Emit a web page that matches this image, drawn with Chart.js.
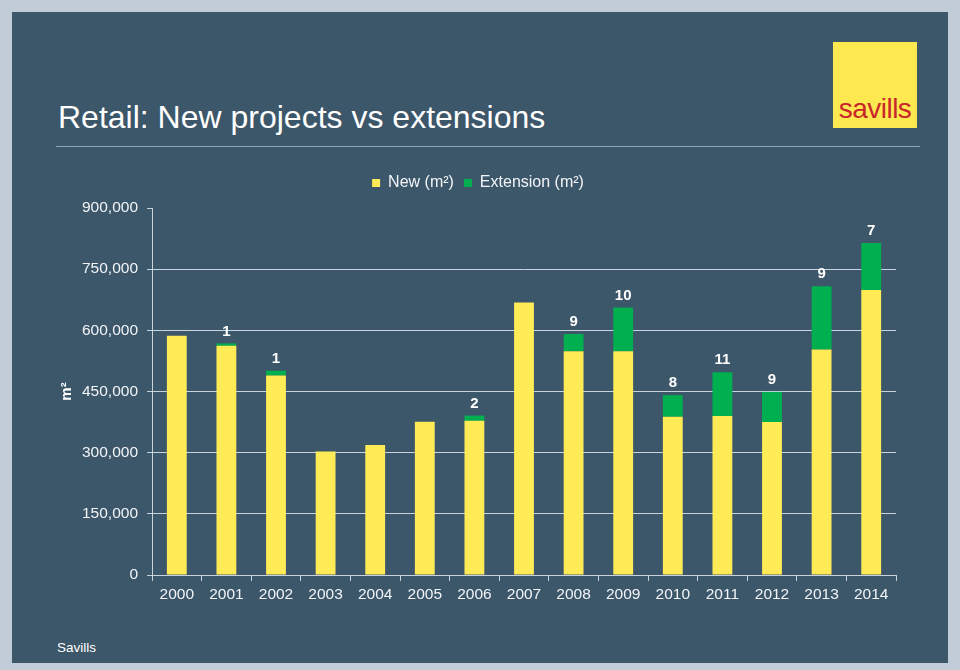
<!DOCTYPE html>
<html>
<head>
<meta charset="utf-8">
<script src="https://cdn.jsdelivr.net/npm/chart.js@4.4.1/dist/chart.umd.min.js"></script>
<style>
  html, body { margin:0; padding:0; }
  body { width:960px; height:670px; background:#c2ccd8; position:relative; overflow:hidden; font-family:"Liberation Sans", Arial, sans-serif; }
  #panel { position:absolute; left:12px; top:12px; width:936px; height:651px; background:#3c566a; }
  #title { position:absolute; left:58px; top:97px; font-size:32px; color:#ffffff; white-space:nowrap; line-height:40px; }
  #rule { position:absolute; left:56px; top:146px; width:864px; height:1px; background:#8ea2b4; }
  #logo { position:absolute; left:833px; top:42px; width:84px; height:86px; background:#fde84f; }
  #logo span { position:absolute; left:0; right:0; bottom:4px; text-align:center; color:#c8262b; font-size:28px; letter-spacing:-0.5px; line-height:30px; }
  #foot { position:absolute; left:57px; top:640px; font-size:13.5px; color:#ffffff; }
  #wrap { position:absolute; left:0; top:0; width:960px; height:670px; }
</style>
</head>
<body>
<div id="panel"></div>
<div id="title">Retail: New projects vs extensions</div>
<div id="rule"></div>
<div id="logo"><span>savills</span></div>
<div id="foot">Savills</div>
<div id="wrap"><canvas id="c" width="960" height="670"></canvas></div>
<script>
const years = ["2000","2001","2002","2003","2004","2005","2006","2007","2008","2009","2010","2011","2012","2013","2014"];
const newArea = [587000, 562000, 489000, 303000, 319000, 376000, 378000, 668000, 549000, 549000, 388000, 390000, 375000, 553000, 699000];
const extArea = [0, 6000, 12000, 0, 0, 0, 13000, 0, 42000, 107000, 53000, 107000, 74000, 155000, 115000];
const extCounts = [null, 1, 1, null, null, null, 2, null, 9, 10, 8, 11, 9, 9, 7];
const yMax = 900000;
const yStep = 150000;

const lineCol = '#c9d3dc';
const textCol = '#f2f4f6';
const FONT = "'Liberation Sans', Arial, sans-serif";

const countLabels = {
  id: 'countLabels',
  afterInit(chart) {
    const lg = chart.legend;
    if (lg && !lg._wrapped) {
      const origFit = lg.fit;
      lg.fit = function () { origFit.call(this); this.height += 7; };
      lg._wrapped = true;
    }
  },
  afterLayout(chart) {
    const lg = chart.legend;
    if (lg) { lg.left = 12; lg.right = 944; }
  },
  afterDatasetsDraw(chart) {
    const meta = chart.getDatasetMeta(1);
    const ctx = chart.ctx;
    ctx.save();
    ctx.font = "bold 15px " + FONT;
    ctx.fillStyle = '#ffffff';
    ctx.textAlign = 'center';
    ctx.textBaseline = 'middle';
    meta.data.forEach((bar, i) => {
      if (extCounts[i] == null) return;
      ctx.fillText(String(extCounts[i]), bar.x, bar.y - 12);
    });
    ctx.restore();
  }
};

new Chart(document.getElementById('c'), {
  type: 'bar',
  data: {
    labels: years,
    datasets: [
      { label: 'New (m²)', data: newArea, backgroundColor: '#ffeb55', borderWidth: 0 },
      { label: 'Extension (m²)', data: extArea, backgroundColor: '#00b050', borderWidth: 0 }
    ]
  },
  options: {
    responsive: false,
    animation: false,
    devicePixelRatio: 1,
    categoryPercentage: 1,
    barPercentage: 0.4,
    layout: { padding: { left: 12, right: 64, top: 165, bottom: 55 } },
    plugins: {
      legend: {
        position: 'top',
        labels: {
          color: textCol,
          font: { family: FONT, size: 16 },
          boxWidth: 8, boxHeight: 8,
          padding: 10
        }
      },
      tooltip: { enabled: false }
    },
    scales: {
      x: {
        stacked: true,
        afterFit(s) { s.height = 40; },
        grid: { display: true, drawOnChartArea: false, offset: true, color: lineCol, tickColor: lineCol, tickLength: 6 },
        border: { color: lineCol, width: 1 },
        ticks: { color: textCol, font: { family: FONT, size: 15.5 }, padding: 4, maxRotation: 0, autoSkip: false }
      },
      y: {
        stacked: true,
        min: 0, max: yMax,
        afterFit(s) { s.width = 140; },
        title: { display: true, text: 'm²', color: '#ffffff', font: { family: FONT, size: 15, weight: 'bold' }, padding: { top: 46, bottom: 0 } },
        grid: {
          color: (c) => (c.tick && c.tick.value === yMax) ? 'rgba(0,0,0,0)' : lineCol,
          tickColor: lineCol, tickLength: 5, lineWidth: 1
        },
        border: { color: lineCol, width: 1 },
        ticks: {
          stepSize: yStep,
          color: textCol,
          font: { family: FONT, size: 15.5 },
          padding: 9,
          callback: (v) => Number(v).toLocaleString('en-US')
        }
      }
    }
  },
  plugins: [countLabels]
});
</script>
</body>
</html>
